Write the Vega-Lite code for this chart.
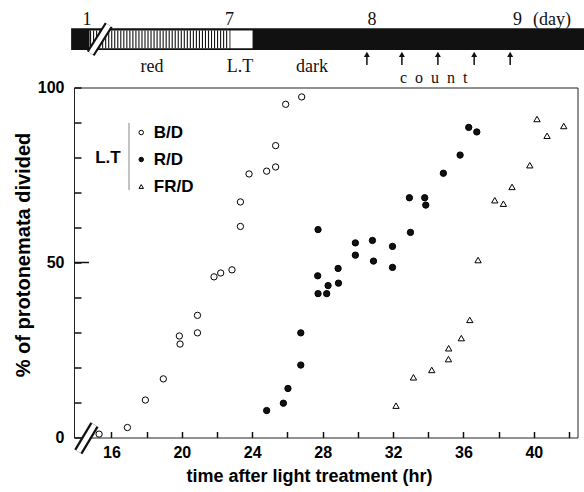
{
  "$schema": "https://vega.github.io/schema/vega-lite/v6.json",
  "width": 503.5,
  "height": 350,
  "autosize": {"type": "none"},
  "padding": {"left": 74, "top": 87.5, "right": 6.5, "bottom": 54.5},
  "background": "white",
  "config": {
    "view": {"stroke": "#222", "strokeWidth": 1},
    "font": "Liberation Sans",
    "axis": {
      "domain": false,
      "tickColor": "#111",
      "tickWidth": 1.5,
      "labelColor": "black",
      "titleColor": "black",
      "labelFont": "Liberation Sans",
      "titleFont": "Liberation Sans",
      "labelFontWeight": "bold",
      "titleFontWeight": "bold",
      "grid": false
    }
  },
  "datasets": {
    "divided": [
      {"treatment": "B/D", "x": 15.30, "y": 0.97},
      {"treatment": "B/D", "x": 16.91, "y": 2.85},
      {"treatment": "B/D", "x": 17.93, "y": 10.7},
      {"treatment": "B/D", "x": 18.95, "y": 16.75},
      {"treatment": "B/D", "x": 19.86, "y": 29.0},
      {"treatment": "B/D", "x": 19.90, "y": 26.7},
      {"treatment": "B/D", "x": 20.89, "y": 34.9},
      {"treatment": "B/D", "x": 20.89, "y": 29.9},
      {"treatment": "B/D", "x": 21.83, "y": 45.9},
      {"treatment": "B/D", "x": 22.21, "y": 47.0},
      {"treatment": "B/D", "x": 22.85, "y": 47.9},
      {"treatment": "B/D", "x": 23.33, "y": 60.3},
      {"treatment": "B/D", "x": 23.33, "y": 67.3},
      {"treatment": "B/D", "x": 23.82, "y": 75.3},
      {"treatment": "B/D", "x": 24.82, "y": 76.1},
      {"treatment": "B/D", "x": 25.33, "y": 77.3},
      {"treatment": "B/D", "x": 25.33, "y": 83.4},
      {"treatment": "B/D", "x": 25.90, "y": 95.2},
      {"treatment": "B/D", "x": 26.81, "y": 97.3},
      {"treatment": "R/D", "x": 24.82, "y": 7.7},
      {"treatment": "R/D", "x": 25.77, "y": 9.8},
      {"treatment": "R/D", "x": 26.03, "y": 14.0},
      {"treatment": "R/D", "x": 26.76, "y": 20.7},
      {"treatment": "R/D", "x": 26.76, "y": 29.9},
      {"treatment": "R/D", "x": 27.74, "y": 59.4},
      {"treatment": "R/D", "x": 27.72, "y": 46.2},
      {"treatment": "R/D", "x": 27.74, "y": 41.1},
      {"treatment": "R/D", "x": 28.23, "y": 41.1},
      {"treatment": "R/D", "x": 28.31, "y": 43.4},
      {"treatment": "R/D", "x": 28.88, "y": 48.3},
      {"treatment": "R/D", "x": 28.90, "y": 44.1},
      {"treatment": "R/D", "x": 29.86, "y": 55.6},
      {"treatment": "R/D", "x": 29.86, "y": 52.1},
      {"treatment": "R/D", "x": 30.83, "y": 56.3},
      {"treatment": "R/D", "x": 30.89, "y": 50.4},
      {"treatment": "R/D", "x": 31.97, "y": 54.6},
      {"treatment": "R/D", "x": 31.97, "y": 48.6},
      {"treatment": "R/D", "x": 32.93, "y": 68.5},
      {"treatment": "R/D", "x": 32.99, "y": 58.6},
      {"treatment": "R/D", "x": 33.80, "y": 68.5},
      {"treatment": "R/D", "x": 33.86, "y": 66.4},
      {"treatment": "R/D", "x": 34.86, "y": 75.5},
      {"treatment": "R/D", "x": 35.81, "y": 80.7},
      {"treatment": "R/D", "x": 36.30, "y": 88.6},
      {"treatment": "R/D", "x": 36.76, "y": 87.3},
      {"treatment": "FR/D", "x": 32.17, "y": 9.1},
      {"treatment": "FR/D", "x": 33.16, "y": 17.2},
      {"treatment": "FR/D", "x": 34.20, "y": 19.3},
      {"treatment": "FR/D", "x": 35.15, "y": 22.4},
      {"treatment": "FR/D", "x": 35.16, "y": 25.5},
      {"treatment": "FR/D", "x": 35.88, "y": 28.4},
      {"treatment": "FR/D", "x": 36.36, "y": 33.6},
      {"treatment": "FR/D", "x": 36.83, "y": 50.7},
      {"treatment": "FR/D", "x": 37.78, "y": 67.8},
      {"treatment": "FR/D", "x": 38.27, "y": 66.8},
      {"treatment": "FR/D", "x": 38.76, "y": 71.6},
      {"treatment": "FR/D", "x": 39.77, "y": 77.8},
      {"treatment": "FR/D", "x": 40.18, "y": 91.0},
      {"treatment": "FR/D", "x": 40.75, "y": 86.2},
      {"treatment": "FR/D", "x": 41.70, "y": 89.0}
    ],
    "majorTick": [{"x": 13.875, "x2": 14.73, "y": 50}],
    "axisBreak": [{"x": 14.12, "y": -4.06, "x2": 15.04, "y2": 3.66}],
    "legendBar": [{"x": 17.0, "y": 70.7, "y2": 89.9}],
    "legendTitle": [{"x": 15.8, "y": 79.9, "label": "L.T"}],
    "bar": [{"tx": 5.9, "tx2": 9.6, "ty": 0, "ty2": 1}],
    "redPeriod": [{"tx": 6.028, "tx2": 7.0, "ty": 0.08, "ty2": 0.9}],
    "stripes": [
      {"tx": 6.035, "ty": 0.08, "ty2": 0.9}, {"tx": 6.056, "ty": 0.08, "ty2": 0.9},
      {"tx": 6.077, "ty": 0.08, "ty2": 0.9}, {"tx": 6.098, "ty": 0.08, "ty2": 0.9},
      {"tx": 6.119, "ty": 0.08, "ty2": 0.9}, {"tx": 6.140, "ty": 0.08, "ty2": 0.9},
      {"tx": 6.161, "ty": 0.08, "ty2": 0.9}, {"tx": 6.182, "ty": 0.08, "ty2": 0.9},
      {"tx": 6.203, "ty": 0.08, "ty2": 0.9}, {"tx": 6.224, "ty": 0.08, "ty2": 0.9},
      {"tx": 6.245, "ty": 0.08, "ty2": 0.9}, {"tx": 6.266, "ty": 0.08, "ty2": 0.9},
      {"tx": 6.287, "ty": 0.08, "ty2": 0.9}, {"tx": 6.308, "ty": 0.08, "ty2": 0.9},
      {"tx": 6.329, "ty": 0.08, "ty2": 0.9}, {"tx": 6.350, "ty": 0.08, "ty2": 0.9},
      {"tx": 6.371, "ty": 0.08, "ty2": 0.9}, {"tx": 6.392, "ty": 0.08, "ty2": 0.9},
      {"tx": 6.413, "ty": 0.08, "ty2": 0.9}, {"tx": 6.434, "ty": 0.08, "ty2": 0.9},
      {"tx": 6.455, "ty": 0.08, "ty2": 0.9}, {"tx": 6.476, "ty": 0.08, "ty2": 0.9},
      {"tx": 6.497, "ty": 0.08, "ty2": 0.9}, {"tx": 6.518, "ty": 0.08, "ty2": 0.9},
      {"tx": 6.539, "ty": 0.08, "ty2": 0.9}, {"tx": 6.560, "ty": 0.08, "ty2": 0.9},
      {"tx": 6.581, "ty": 0.08, "ty2": 0.9}, {"tx": 6.602, "ty": 0.08, "ty2": 0.9},
      {"tx": 6.623, "ty": 0.08, "ty2": 0.9}, {"tx": 6.644, "ty": 0.08, "ty2": 0.9},
      {"tx": 6.665, "ty": 0.08, "ty2": 0.9}, {"tx": 6.686, "ty": 0.08, "ty2": 0.9},
      {"tx": 6.707, "ty": 0.08, "ty2": 0.9}, {"tx": 6.728, "ty": 0.08, "ty2": 0.9},
      {"tx": 6.749, "ty": 0.08, "ty2": 0.9}, {"tx": 6.770, "ty": 0.08, "ty2": 0.9},
      {"tx": 6.791, "ty": 0.08, "ty2": 0.9}, {"tx": 6.812, "ty": 0.08, "ty2": 0.9},
      {"tx": 6.833, "ty": 0.08, "ty2": 0.9}, {"tx": 6.854, "ty": 0.08, "ty2": 0.9},
      {"tx": 6.875, "ty": 0.08, "ty2": 0.9}, {"tx": 6.896, "ty": 0.08, "ty2": 0.9},
      {"tx": 6.917, "ty": 0.08, "ty2": 0.9}, {"tx": 6.938, "ty": 0.08, "ty2": 0.9},
      {"tx": 6.959, "ty": 0.08, "ty2": 0.9}, {"tx": 6.980, "ty": 0.08, "ty2": 0.9}
    ],
    "ltBox": [{"tx": 7.006, "tx2": 7.16, "ty": 0.08, "ty2": 0.9}],
    "barBreak": [{"tx": 6.036, "ty": -0.161, "tx2": 6.161, "ty2": 1.152}],
    "dayLabels": [
      {"tx": 6.01, "ty": 1.15, "label": "1"},
      {"tx": 7.0, "ty": 1.15, "label": "7"},
      {"tx": 7.99, "ty": 1.15, "label": "8"},
      {"tx": 9.0, "ty": 1.15, "label": "9"},
      {"tx": 9.24, "ty": 1.15, "label": "(day)"}
    ],
    "phaseLabels": [
      {"tx": 6.461, "ty": -1.014, "label": "red"},
      {"tx": 7.072, "ty": -1.014, "label": "L.T"},
      {"tx": 7.572, "ty": -1.014, "label": "dark"}
    ],
    "countLabel": [{"tx": 8.418, "ty": -1.5, "label": "c\u00a0\u00a0o\u00a0\u00a0u\u00a0\u00a0n\u00a0\u00a0t"}],
    "countArrows": [
      {"tx": 7.954, "ty": -0.69, "ty2": -0.22},
      {"tx": 8.197, "ty": -0.69, "ty2": -0.22},
      {"tx": 8.447, "ty": -0.69, "ty2": -0.22},
      {"tx": 8.699, "ty": -0.69, "ty2": -0.22},
      {"tx": 8.949, "ty": -0.69, "ty2": -0.22}
    ],
    "countHeads": [
      {"tx": 7.954, "ty": -0.2},
      {"tx": 8.197, "ty": -0.2},
      {"tx": 8.447, "ty": -0.2},
      {"tx": 8.699, "ty": -0.2},
      {"tx": 8.949, "ty": -0.2}
    ]
  },
  "layer": [
    {
      "encoding": {
        "x": {
          "field": "x", "type": "quantitative",
          "scale": {"domain": [13.875, 42.48], "nice": false, "zero": false},
          "axis": {
            "values": [16, 18, 20, 22, 24, 26, 28, 30, 32, 34, 36, 38, 40, 42],
            "labelExpr": "datum.value % 4 === 0 ? datum.label : ''",
            "offset": -6,
            "tickSize": 6,
            "labelPadding": 7.3,
            "labelFontSize": 16,
            "title": "time after light treatment (hr)",
            "titleFontSize": 18,
            "titleX": 235,
            "titleY": 50,
            "titleBaseline": "alphabetic"
          }
        },
        "y": {
          "field": "y", "type": "quantitative",
          "scale": {"domain": [0, 100], "nice": false, "zero": false},
          "axis": {
            "values": [10, 20, 30, 40, 50, 60, 70, 80, 90, 0, 100],
            "labelExpr": "datum.value % 50 === 0 ? datum.label : ''",
            "offset": -7,
            "tickSize": 7,
            "labelPadding": 10,
            "labelFontSize": 16,
            "title": "% of protonemata divided",
            "titleFontSize": 20,
            "titleAngle": 270,
            "titleX": -58,
            "titleY": 167,
            "titleBaseline": "middle",
            "titleAlign": "center"
          }
        }
      },
      "layer": [
        {
          "data": {"name": "majorTick"},
          "mark": {"type": "rule", "color": "#111", "strokeWidth": 1.5},
          "encoding": {"x2": {"field": "x2"}}
        },
        {
          "data": {"name": "legendBar"},
          "mark": {"type": "rule", "color": "#888", "strokeWidth": 1},
          "encoding": {"y2": {"field": "y2"}}
        },
        {
          "data": {"name": "legendTitle"},
          "mark": {"type": "text", "font": "Liberation Sans", "fontWeight": "bold", "fontSize": 17, "align": "center", "baseline": "middle", "color": "black"},
          "encoding": {"text": {"field": "label"}}
        },
        {
          "data": {"name": "divided"},
          "mark": {"type": "point", "filled": true, "strokeWidth": 1, "size": 40, "opacity": 1},
          "encoding": {
            "shape": {
              "field": "treatment", "type": "nominal",
              "scale": {"domain": ["B/D", "R/D", "FR/D"], "range": ["circle", "circle", "triangle-up"]},
              "legend": {"title": null, "orient": "none", "legendX": 58.75, "legendY": 36.5, "padding": 0, "labelFont": "Liberation Sans", "labelFontSize": 17, "labelFontWeight": "bold", "labelColor": "black", "labelOffset": 4, "symbolSize": 20, "symbolStrokeWidth": 1, "rowPadding": 9}
            },
            "fill": {
              "field": "treatment", "type": "nominal",
              "scale": {"domain": ["B/D", "R/D", "FR/D"], "range": ["white", "#111", "white"]},
              "legend": {"title": null, "orient": "none", "legendX": 58.75, "legendY": 36.5, "padding": 0, "labelFont": "Liberation Sans", "labelFontSize": 17, "labelFontWeight": "bold", "labelColor": "black", "labelOffset": 4, "symbolSize": 20, "symbolStrokeWidth": 1, "rowPadding": 9}
            },
            "stroke": {
              "field": "treatment", "type": "nominal",
              "scale": {"domain": ["B/D", "R/D", "FR/D"], "range": ["black", "black", "black"]},
              "legend": {"title": null, "orient": "none", "legendX": 58.75, "legendY": 36.5, "padding": 0, "labelFont": "Liberation Sans", "labelFontSize": 17, "labelFontWeight": "bold", "labelColor": "black", "labelOffset": 4, "symbolSize": 20, "symbolStrokeWidth": 1, "rowPadding": 9}
            }
          }
        },
        {
          "data": {"name": "axisBreak"},
          "mark": {"type": "rule", "color": "#111", "strokeWidth": 9.5},
          "encoding": {"x2": {"field": "x2"}, "y2": {"field": "y2"}}
        },
        {
          "data": {"name": "axisBreak"},
          "mark": {"type": "rule", "color": "white", "strokeWidth": 5},
          "encoding": {"x2": {"field": "x2"}, "y2": {"field": "y2"}}
        }
      ]
    },
    {
      "encoding": {
        "x": {"field": "tx", "type": "quantitative", "scale": {"domain": [5.92, 9.4165], "nice": false, "zero": false}, "axis": null},
        "y": {"field": "ty", "type": "quantitative", "scale": {"domain": [-17.857, -1.728], "nice": false, "zero": false}, "axis": null}
      },
      "layer": [
        {
          "data": {"name": "bar"},
          "mark": {"type": "rect", "color": "#111"},
          "encoding": {"x2": {"field": "tx2"}, "y2": {"field": "ty2"}}
        },
        {
          "data": {"name": "redPeriod"},
          "mark": {"type": "rect", "color": "white"},
          "encoding": {"x2": {"field": "tx2"}, "y2": {"field": "ty2"}}
        },
        {
          "data": {"name": "stripes"},
          "mark": {"type": "rule", "color": "#111", "strokeWidth": 1.1},
          "encoding": {"y2": {"field": "ty2"}}
        },
        {
          "data": {"name": "ltBox"},
          "mark": {"type": "rect", "color": "white"},
          "encoding": {"x2": {"field": "tx2"}, "y2": {"field": "ty2"}}
        },
        {
          "data": {"name": "barBreak"},
          "mark": {"type": "rule", "color": "#111", "strokeWidth": 9},
          "encoding": {"x2": {"field": "tx2"}, "y2": {"field": "ty2"}}
        },
        {
          "data": {"name": "barBreak"},
          "mark": {"type": "rule", "color": "white", "strokeWidth": 5},
          "encoding": {"x2": {"field": "tx2"}, "y2": {"field": "ty2"}}
        },
        {
          "data": {"name": "dayLabels"},
          "mark": {"type": "text", "font": "Liberation Serif", "fontSize": 18, "align": "center", "baseline": "alphabetic", "color": "#111"},
          "encoding": {"text": {"field": "label"}}
        },
        {
          "data": {"name": "phaseLabels"},
          "mark": {"type": "text", "font": "Liberation Serif", "fontSize": 18, "align": "center", "baseline": "alphabetic", "color": "#111"},
          "encoding": {"text": {"field": "label"}}
        },
        {
          "data": {"name": "countLabel"},
          "mark": {"type": "text", "font": "Liberation Serif", "fontSize": 16, "align": "center", "baseline": "alphabetic", "color": "#111"},
          "encoding": {"text": {"field": "label"}}
        },
        {
          "data": {"name": "countArrows"},
          "mark": {"type": "rule", "color": "#111", "strokeWidth": 1.5},
          "encoding": {"y2": {"field": "ty2"}}
        },
        {
          "data": {"name": "countHeads"},
          "mark": {"type": "point", "shape": "triangle-up", "filled": true, "color": "#111", "size": 36, "opacity": 1},
          "encoding": {}
        }
      ]
    }
  ],
  "resolve": {"scale": {"x": "independent", "y": "independent"}}
}
